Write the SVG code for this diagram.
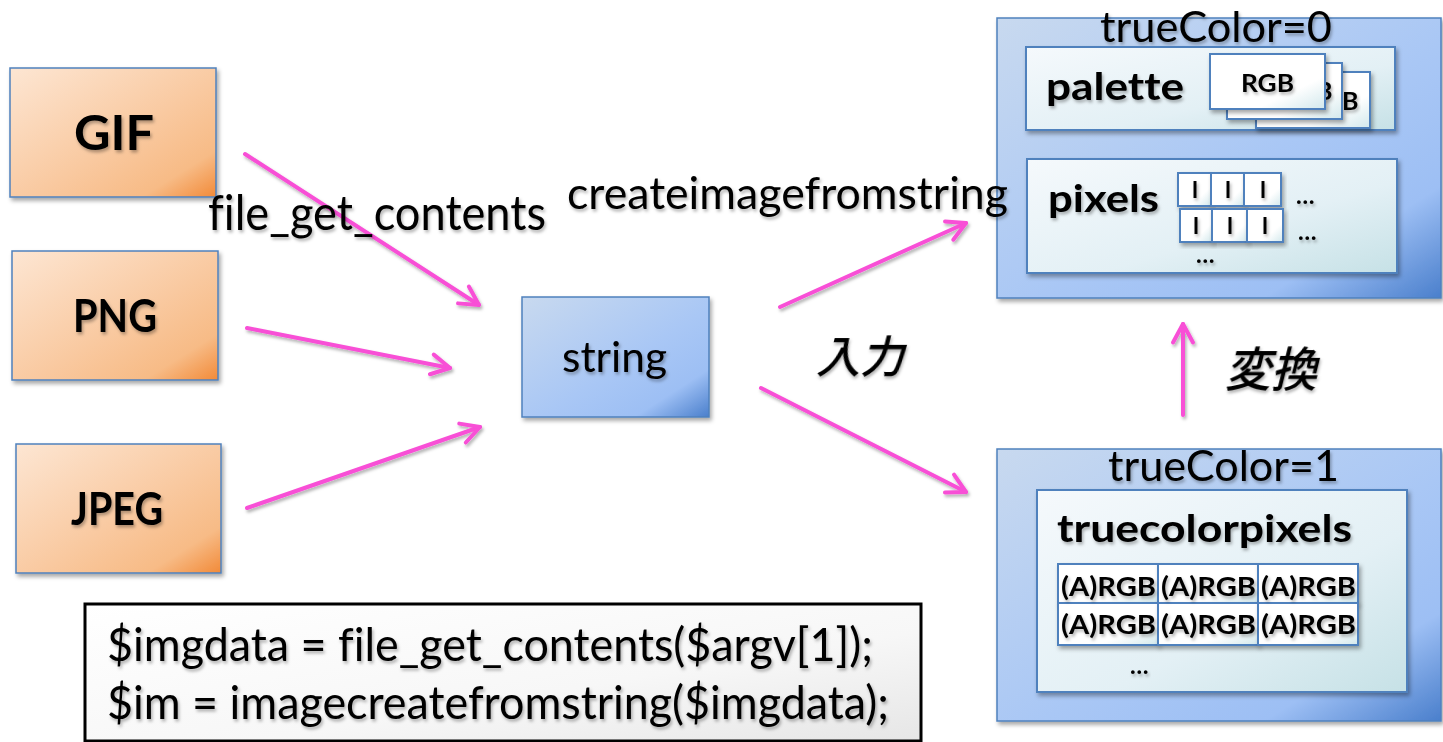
<svg xmlns="http://www.w3.org/2000/svg" width="1443" height="742" viewBox="0 0 1443 742">
  <defs>
    <linearGradient id="gOrange" x1="0" y1="0" x2="1" y2="1">
      <stop offset="0" stop-color="#fde6d3"/>
      <stop offset="0.55" stop-color="#f9c9a0"/>
      <stop offset="0.82" stop-color="#f7bb86"/>
      <stop offset="1" stop-color="#f28a38"/>
    </linearGradient>
    <linearGradient id="gBlue" x1="0" y1="0" x2="1" y2="1">
      <stop offset="0" stop-color="#c8d9ef"/>
      <stop offset="0.55" stop-color="#a9c7f5"/>
      <stop offset="0.8" stop-color="#9dbff4"/>
      <stop offset="1" stop-color="#4a7fcc"/>
    </linearGradient>
    <linearGradient id="gPale" x1="0" y1="0" x2="1" y2="1">
      <stop offset="0" stop-color="#f5f9fc"/>
      <stop offset="0.6" stop-color="#e3f0f5"/>
      <stop offset="1" stop-color="#c6e1e6"/>
    </linearGradient>
    <linearGradient id="gCell" x1="0" y1="0" x2="1" y2="1">
      <stop offset="0" stop-color="#ffffff"/>
      <stop offset="0.7" stop-color="#ffffff"/>
      <stop offset="1" stop-color="#d2e8ec"/>
    </linearGradient>
    <linearGradient id="gCode" x1="0" y1="0" x2="1" y2="1">
      <stop offset="0" stop-color="#ffffff"/>
      <stop offset="0.6" stop-color="#f7f7f7"/>
      <stop offset="1" stop-color="#e6e6e6"/>
    </linearGradient>
    <filter id="boxShadow" x="-10%" y="-10%" width="125%" height="130%">
      <feDropShadow dx="2" dy="3" stdDeviation="2" flood-color="#000" flood-opacity="0.35"/>
    </filter>
    <filter id="txtShadow" x="-5%" y="-20%" width="115%" height="150%">
      <feDropShadow dx="1.5" dy="2.5" stdDeviation="1.5" flood-color="#000" flood-opacity="0.3"/>
    </filter>
    <marker id="arrowHead" markerUnits="userSpaceOnUse" viewBox="-24 -14 28 28" refX="0" refY="0" markerWidth="28" markerHeight="28" orient="auto" overflow="visible">
      <path d="M-18.5,-10 L0,0 L-18.5,10" fill="none" stroke="#f84fd6" stroke-width="4" stroke-linecap="round" stroke-linejoin="round"/>
    </marker>
    <style>
      .orange { fill: url(#gOrange); stroke: #4f81bd; stroke-width: 1.5; filter: url(#boxShadow); }
      .blue { fill: url(#gBlue); stroke: #4f81bd; stroke-width: 1.5; filter: url(#boxShadow); }
      .pale { fill: url(#gPale); stroke: #4f81bd; stroke-width: 2; filter: url(#boxShadow); }
      .cell { fill: url(#gCell); stroke: #4f81bd; stroke-width: 2; filter: url(#boxShadow); }
      .code { fill: url(#gCode); stroke: #000; stroke-width: 3; }
      .t { font-family: Lato, "Liberation Sans", sans-serif; fill: #000; filter: url(#txtShadow); font-variant-ligatures: none; }
      .b { font-weight: bold; }
      .mid { text-anchor: middle; }
      .dots { font-family: Lato, "Liberation Sans", sans-serif; font-weight: bold; fill: #000; filter: url(#txtShadow); }
      .jp { font-family: "Noto Sans CJK JP", sans-serif; font-weight: 500; fill: #000; filter: url(#txtShadow); }
      .link { fill: none; stroke: #f84fd6; stroke-width: 4; stroke-linecap: round; marker-end: url(#arrowHead); }
    </style>
  </defs>

  <rect width="1443" height="742" fill="#ffffff"/>

  <!-- image format sources -->
  <g id="node-gif">
    <rect class="orange" x="10" y="68" width="206" height="129"/>
    <text class="t b" x="74" y="150" font-family="Liberation Sans, sans-serif" font-size="48" textLength="80" lengthAdjust="spacingAndGlyphs">GIF</text>
  </g>
  <g id="node-png">
    <rect class="orange" x="12" y="251" width="206" height="129"/>
    <text class="t b" x="73" y="332" font-size="45" textLength="84" lengthAdjust="spacingAndGlyphs">PNG</text>
  </g>
  <g id="node-jpeg">
    <rect class="orange" x="16" y="444" width="205" height="129"/>
    <text class="t b" x="71" y="525" font-size="45" textLength="92" lengthAdjust="spacingAndGlyphs">JPEG</text>
  </g>

  <!-- loaded bytes -->
  <g id="node-string">
    <rect class="blue" x="522" y="297" width="187" height="120"/>
    <text class="t" x="562" y="372" font-size="42" textLength="105" lengthAdjust="spacingAndGlyphs">string</text>
  </g>

  <!-- palette image -->
  <g id="node-palette-image">
    <rect class="blue" x="997" y="18" width="444" height="280"/>
    <text class="t" x="1100" y="42" font-size="42" textLength="232" lengthAdjust="spacingAndGlyphs">trueColor=0</text>
    <rect class="pale" x="1026" y="47" width="369" height="83"/>
    <text class="t b" x="1046" y="100" font-size="38" textLength="138" lengthAdjust="spacingAndGlyphs">palette</text>
    <!-- stacked palette entries, only the tail of the rear labels shows -->
    <rect class="cell" x="1256" y="72" width="114" height="56"/>
    <text class="t b" x="1342" y="110" font-size="25">B</text>
    <rect class="cell" x="1227" y="63" width="115" height="56"/>
    <text class="t b" x="1316" y="100" font-size="25">B</text>
    <rect class="cell" x="1210" y="54" width="115" height="55"/>
    <text class="t b" x="1241" y="92" font-size="25" textLength="53" lengthAdjust="spacingAndGlyphs">RGB</text>

    <rect class="pale" x="1027" y="159" width="370" height="114"/>
    <text class="t b" x="1048" y="212" font-size="38" textLength="111" lengthAdjust="spacingAndGlyphs">pixels</text>
    <!-- index grid -->
    <rect class="cell" x="1178" y="173" width="33" height="33"/>
    <rect class="cell" x="1211" y="173" width="33" height="33"/>
    <rect class="cell" x="1244" y="173" width="37" height="33"/>
    <rect class="cell" x="1180" y="209" width="32" height="33"/>
    <rect class="cell" x="1212" y="209" width="35" height="33"/>
    <rect class="cell" x="1247" y="209" width="36" height="33"/>
    <g class="t b mid" font-size="22">
      <text x="1195" y="198">I</text>
      <text x="1228" y="198">I</text>
      <text x="1263" y="198">I</text>
      <text x="1196" y="234">I</text>
      <text x="1230" y="234">I</text>
      <text x="1265" y="234">I</text>
    </g>
    <g class="dots" font-size="24">
      <text x="1296" y="204">…</text>
      <text x="1298" y="240">…</text>
      <text x="1196" y="263">…</text>
    </g>
  </g>

  <!-- truecolor image -->
  <g id="node-truecolor-image">
    <rect class="blue" x="997" y="449" width="444" height="272"/>
    <text class="t" x="1108" y="481" font-size="42" textLength="231" lengthAdjust="spacingAndGlyphs">trueColor=1</text>
    <rect class="pale" x="1037" y="490" width="370" height="202"/>
    <text class="t b" x="1057" y="542" font-size="38" textLength="295" lengthAdjust="spacingAndGlyphs">truecolorpixels</text>
    <rect class="cell" x="1058" y="564" width="100" height="39"/>
    <rect class="cell" x="1158" y="564" width="100" height="39"/>
    <rect class="cell" x="1258" y="564" width="100" height="39"/>
    <rect class="cell" x="1058" y="603" width="100" height="42"/>
    <rect class="cell" x="1158" y="603" width="100" height="42"/>
    <rect class="cell" x="1258" y="603" width="100" height="42"/>
    <g class="t b" font-size="27">
      <text x="1061" y="596" textLength="95" lengthAdjust="spacingAndGlyphs">(A)RGB</text>
      <text x="1161" y="596" textLength="95" lengthAdjust="spacingAndGlyphs">(A)RGB</text>
      <text x="1261" y="596" textLength="95" lengthAdjust="spacingAndGlyphs">(A)RGB</text>
      <text x="1061" y="634" textLength="95" lengthAdjust="spacingAndGlyphs">(A)RGB</text>
      <text x="1161" y="634" textLength="95" lengthAdjust="spacingAndGlyphs">(A)RGB</text>
      <text x="1261" y="634" textLength="95" lengthAdjust="spacingAndGlyphs">(A)RGB</text>
    </g>
    <text class="dots" x="1130" y="674" font-size="24">…</text>
  </g>

  <!-- PHP snippet -->
  <g id="node-code">
    <rect class="code" x="85" y="604" width="836" height="137"/>
    <text class="t" x="107" y="661" font-size="46" textLength="766" lengthAdjust="spacingAndGlyphs">$imgdata = file_get_contents($argv[1]);</text>
    <text class="t" x="107" y="719" font-size="46" textLength="782" lengthAdjust="spacingAndGlyphs">$im = imagecreatefromstring($imgdata);</text>
  </g>

  <!-- connectors -->
  <g id="connectors" filter="url(#txtShadow)">
    <line class="link" x1="245" y1="154" x2="479" y2="305"/>
    <line class="link" x1="247" y1="328" x2="450" y2="368"/>
    <line class="link" x1="247" y1="508" x2="480" y2="427"/>
    <line class="link" x1="780" y1="307" x2="966" y2="223"/>
    <line class="link" x1="761" y1="388" x2="966" y2="492"/>
    <line class="link" x1="1183" y1="415" x2="1183" y2="324"/>
  </g>
  <!-- connector labels -->
  <g id="labels">
    <text class="t" x="208" y="230" font-size="48" textLength="338" lengthAdjust="spacingAndGlyphs">file_get_contents</text>
    <text class="t" x="567" y="209" font-size="45" textLength="441" lengthAdjust="spacingAndGlyphs">createimagefromstring</text>
    <text class="jp" font-size="44" transform="translate(816,373) skewX(-14)">入力</text>
    <text class="jp" font-size="46" transform="translate(1225,386) skewX(-14)">変換</text>
  </g>
</svg>
